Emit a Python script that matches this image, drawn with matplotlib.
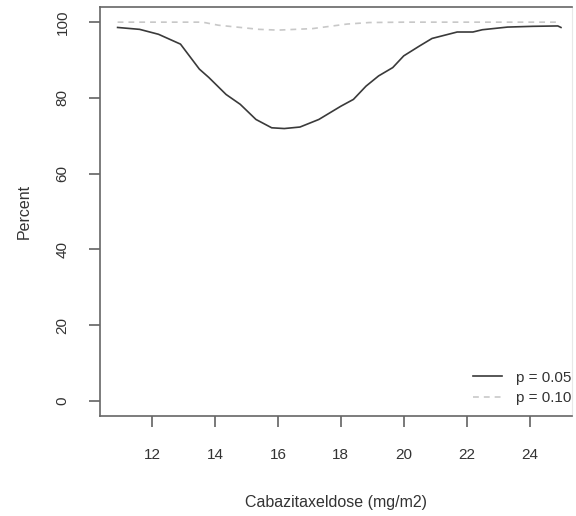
import numpy as np
import matplotlib
matplotlib.use("Agg")
import matplotlib.pyplot as plt

plt.rcParams["font.family"] = ["Liberation Sans", "DejaVu Sans"]

# ---- values ----
DOSE_05 = [10.9, 11.6, 12.2, 12.9, 13.5, 13.8, 14.35, 14.8, 15.3, 15.8, 16.2, 16.7,
           17.3, 18.0, 18.4, 18.8, 19.2, 19.65, 20.0, 20.5, 20.9, 21.7, 22.2, 22.5,
           23.3, 24.1, 24.9, 25.0]
PCT_05 = [98.6, 98.1, 96.8, 94.2, 87.6, 85.4, 80.9, 78.3, 74.3, 72.1, 71.9, 72.3,
          74.3, 77.8, 79.6, 83.1, 85.8, 88.0, 91.1, 93.7, 95.7, 97.4, 97.4, 98.0,
          98.7, 98.9, 99.0, 98.6]
DOSE_10 = [10.9, 12.0, 13.0, 13.6, 14.1, 15.4, 16.0, 17.1, 18.2, 18.9, 20.0, 22.0, 25.0]
PCT_10 = [100.0, 100.0, 100.0, 100.0, 99.2, 98.1, 97.9, 98.3, 99.5, 99.9, 100.0, 100.0, 100.0]
XTICKS = [12, 14, 16, 18, 20, 22, 24]
YTICKS = [0, 20, 40, 60, 80, 100]

fig = plt.figure(figsize=(5.76, 5.16), dpi=100)
ax = fig.add_axes([0.1736, 0.194, 0.8194, 0.7924])

ax.plot(DOSE_05, PCT_05, color="#3a3a3a", lw=1.2, label="p = 0.05")
ax.plot(DOSE_10, PCT_10, color="#c8c8c8", lw=1.2, ls=(0, (3.5, 3)), label="p = 0.10")

ax.set_xlim(10.34, 25.35)
ax.set_ylim(-4, 104)
ax.set_xticks(XTICKS)
ax.set_yticks(YTICKS)
ax.set_yticklabels([str(v) for v in YTICKS], rotation=90, va="center")
ax.tick_params(axis="x", pad=15)
ax.tick_params(axis="y", pad=14)
ax.tick_params(axis="both", length=8, width=1.1, color="#555555",
               labelsize=11, labelcolor="#333333")
for side in ("left", "bottom", "top"):
    ax.spines[side].set_color("#666666")
    ax.spines[side].set_linewidth(1.2)
ax.spines["right"].set_color("#e8e8e8")

ax.set_xlabel("Cabazitaxeldose (mg/m2)", fontsize=11.5, color="#333333", labelpad=24)
ax.set_ylabel("Percent", fontsize=11.5, color="#333333", labelpad=17)

ax.legend(loc="lower right", frameon=False, fontsize=11, handlelength=1.9,
          handletextpad=0.9, labelspacing=0.4, borderaxespad=0.0,
          bbox_to_anchor=(1.012, 0.012), labelcolor="#333333")

fig.savefig("out.png", dpi=100)
